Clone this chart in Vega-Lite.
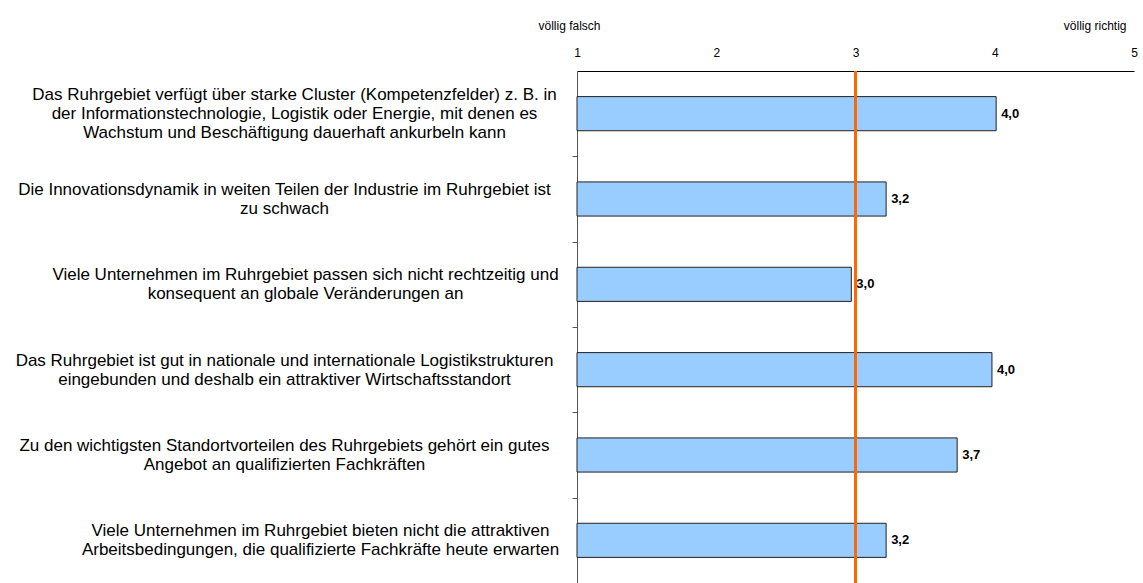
{
  "$schema": "https://vega.github.io/schema/vega-lite/v6.json",
  "width": 557,
  "height": 512,
  "autosize": {"type": "none"},
  "padding": {"left": 577, "top": 71, "right": 9, "bottom": 0},
  "background": "white",
  "config": {
    "view": {"stroke": null},
    "font": "Liberation Sans",
    "locale": {"number": {"decimal": ",", "thousands": ".", "grouping": [3], "currency": ["", " €"]}}
  },
  "data": {
    "values": [
      {"aussage": "Das Ruhrgebiet verfügt über starke Cluster (Kompetenzfelder) z. B. in|der Informationstechnologie, Logistik oder Energie, mit denen es|Wachstum und Beschäftigung dauerhaft ankurbeln kann", "wert": 4.01},
      {"aussage": "Die Innovationsdynamik in weiten Teilen der Industrie im Ruhrgebiet ist|zu schwach", "wert": 3.22},
      {"aussage": "Viele Unternehmen im Ruhrgebiet passen sich nicht rechtzeitig und|konsequent an globale Veränderungen an", "wert": 2.97},
      {"aussage": "Das Ruhrgebiet ist gut in nationale und internationale Logistikstrukturen|eingebunden und deshalb ein attraktiver Wirtschaftsstandort", "wert": 3.98},
      {"aussage": "Zu den wichtigsten Standortvorteilen des Ruhrgebiets gehört ein gutes|Angebot an qualifizierten Fachkräften", "wert": 3.73},
      {"aussage": "Viele Unternehmen im Ruhrgebiet bieten nicht die attraktiven|Arbeitsbedingungen, die qualifizierte Fachkräfte heute erwarten", "wert": 3.22}
    ]
  },
  "resolve": {"axis": {"x": "independent"}},
  "layer": [
    {
      "mark": {"type": "bar", "fill": "#99CCFF", "stroke": "#222222", "strokeWidth": 1},
      "encoding": {
        "y": {
          "field": "aussage",
          "type": "nominal",
          "sort": null,
          "scale": {"paddingInner": 0.6, "paddingOuter": 0.3},
          "axis": {
            "title": null,
            "labelExpr": "split(datum.label, '|')",
            "labelAlign": "center",
            "labelBaseline": "middle",
            "labelPadding": {
              "condition": [
                {"test": "indexof(datum.value, 'Cluster') >= 0", "value": 278},
                {"test": "indexof(datum.value, 'passen sich') >= 0", "value": 267},
                {"test": "indexof(datum.value, 'bieten nicht') >= 0", "value": 252}
              ],
              "value": 288
            },
            "labelOffset": {
              "condition": {"test": "indexof(datum.value, 'Cluster') >= 0", "value": -61.67},
              "value": -52.17
            },
            "labelFontSize": 17,
            "labelLineHeight": 19,
            "labelColor": "#000000",
            "labelLimit": 0,
            "tickOffset": 42.67,
            "tickSize": 5,
            "tickColor": "#555555",
            "domainColor": "#555555",
            "grid": false
          }
        },
        "x": {
          "field": "wert",
          "type": "quantitative",
          "scale": {"domain": [1, 5], "zero": false, "nice": false},
          "axis": {
            "orient": "top",
            "title": null,
            "values": [1, 2, 3, 4, 5],
            "format": "d",
            "ticks": false,
            "grid": false,
            "labelFlush": false,
            "labelFontSize": 12,
            "labelColor": "#000000",
            "labelPadding": 12,
            "domainColor": "#000000"
          }
        },
        "x2": {"datum": 1}
      }
    },
    {
      "mark": {"type": "text", "align": "left", "baseline": "middle", "dx": 5, "fontWeight": "bold", "fontSize": 13, "color": "#000000"},
      "encoding": {
        "y": {"field": "aussage", "type": "nominal", "sort": null},
        "x": {"field": "wert", "type": "quantitative", "axis": null},
        "text": {"field": "wert", "type": "quantitative", "format": ".1f"}
      }
    },
    {
      "mark": {"type": "rule", "color": "#FF6600", "strokeWidth": 2},
      "encoding": {
        "x": {
          "datum": 3,
          "type": "quantitative",
          "axis": {
            "orient": "top",
            "title": null,
            "values": [1, 5],
            "labelExpr": "datum.value == 1 ? 'völlig falsch' : 'völlig richtig'",
            "labelAlign": {"condition": {"test": "datum.value == 5", "value": "right"}, "value": "center"},
            "labelOffset": -8,
            "labelFlush": false,
            "labelFontSize": 12,
            "labelColor": "#000000",
            "labelPadding": 39,
            "domain": false,
            "ticks": false,
            "grid": false
          }
        }
      }
    }
  ]
}
